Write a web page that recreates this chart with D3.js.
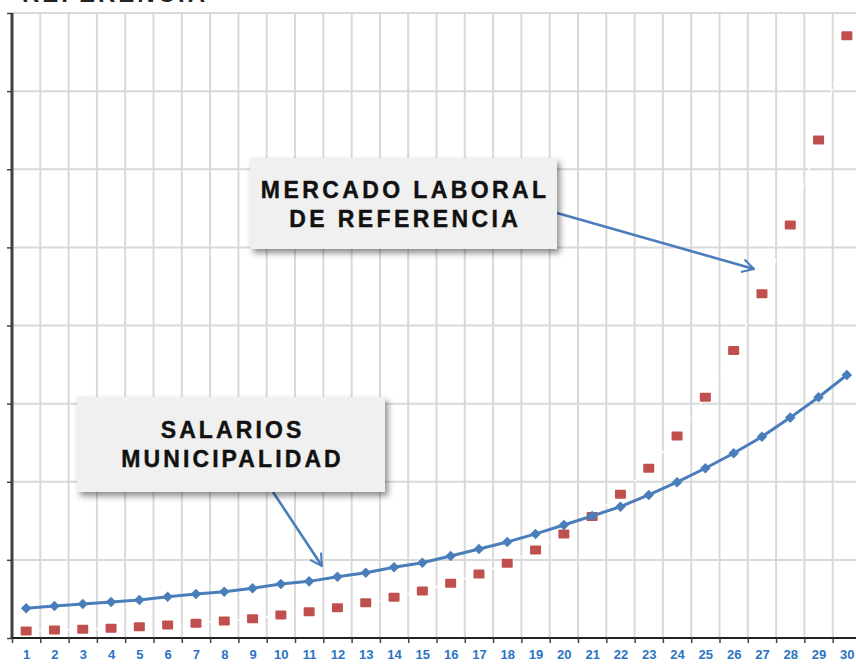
<!DOCTYPE html>
<html>
<head>
<meta charset="utf-8">
<script src="https://cdn.jsdelivr.net/npm/d3@7"></script>
<style>
  body { margin: 0; background: #fff; }
  svg { display: block; font-family: "Liberation Sans", Arial, sans-serif; }
</style>
</head>
<body>
<div class="chart"></div>
<script>
var svgWidth = 856;
var svgHeight = 671;

// Data (one unit per horizontal gridline = 1000)
var categories = d3.range(1, 31);
var salarios = [380, 410, 435, 461, 487, 529, 563, 593, 636, 691,
  725, 785, 836, 905, 964, 1050, 1140, 1229, 1332, 1447,
  1562, 1681, 1831, 1994, 2173, 2365, 2577, 2821, 3082, 3367];
var mercado = [90, 102, 111, 124, 145, 166, 188, 218, 247, 294,
  337, 388, 452, 521, 602, 700, 819, 956, 1127, 1332,
  1555, 1840, 2173, 2586, 3082, 3679, 4408, 5288, 6376, 7708];
var yTicks = d3.range(0, 8001, 1000);

var plot = { left: 12, right: 861, top: 13, bottom: 638 };

var svg = d3.select(".chart")
  .append("svg")
  .attr("width", svgWidth)
  .attr("height", svgHeight);

var defs = svg.append("defs");
var shadow = defs.append("filter")
  .attr("id", "shadow")
  .attr("x", "-10%").attr("y", "-20%")
  .attr("width", "130%").attr("height", "150%");
shadow.append("feDropShadow")
  .attr("dx", 3).attr("dy", 4)
  .attr("stdDeviation", 3)
  .attr("flood-color", "#000")
  .attr("flood-opacity", 0.45);

defs.append("marker")
  .attr("id", "arrow")
  .attr("viewBox", "0 0 12 12")
  .attr("refX", 10).attr("refY", 6)
  .attr("markerWidth", 6).attr("markerHeight", 6)
  .attr("markerUnits", "strokeWidth")
  .attr("orient", "auto")
  .append("path")
  .attr("d", "M1,1 L10,6 L1,11")
  .attr("fill", "none")
  .attr("stroke", "#4a7ebb")
  .attr("stroke-width", 1.6)
  .attr("stroke-linejoin", "round");

// Scales
var x = d3.scaleLinear()
  .domain([0.5, 30.5])
  .range([plot.left, plot.right]);

var y = d3.scaleLinear()
  .domain([0, 8000])
  .range([plot.bottom, plot.top]);

// Title, cut off at the top of the picture
svg.append("text")
  .attr("x", 22)
  .attr("y", 2)
  .attr("font-size", 24)
  .attr("font-weight", "bold")
  .attr("letter-spacing", 3)
  .attr("fill", "#222")
  .text("REFERENCIA");

// Gridlines
var grid = svg.append("g");
grid.selectAll("line.h")
  .data(yTicks.slice(1))
  .enter()
  .append("line")
  .attr("x1", plot.left).attr("x2", plot.right)
  .attr("y1", d => y(d)).attr("y2", d => y(d))
  .attr("stroke", "#d9d9d9")
  .attr("stroke-width", 2);

var boundaries = d3.range(1.5, 31, 1);
grid.selectAll("line.v")
  .data(boundaries)
  .enter()
  .append("line")
  .attr("x1", d => x(d)).attr("x2", d => x(d))
  .attr("y1", plot.top).attr("y2", plot.bottom)
  .attr("stroke", "#d9d9d9")
  .attr("stroke-width", 2);

// Axes
var leftAxis = d3.axisLeft(y).tickValues(yTicks).tickSize(5).tickFormat("");
var gl = svg.append("g")
  .attr("transform", `translate(${plot.left}, 0)`)
  .call(leftAxis);
gl.select(".domain").attr("stroke", "#404040").attr("stroke-width", 3)
  .attr("d", `M0,${plot.top}V${plot.bottom}`);
gl.selectAll(".tick line").attr("stroke", "#404040").attr("stroke-width", 1.5);

var tickAxis = d3.axisBottom(x).tickValues(d3.range(0.5, 31, 1)).tickSize(5).tickFormat("");
var gb = svg.append("g")
  .attr("transform", `translate(0, ${plot.bottom})`)
  .call(tickAxis);
gb.select(".domain").attr("stroke", "#222").attr("stroke-width", 2)
  .attr("d", `M${plot.left},0H${plot.right}`);
gb.selectAll(".tick line").attr("stroke", "#404040").attr("stroke-width", 1.5);

var labelAxis = d3.axisBottom(x).tickValues(categories).tickSize(0).tickPadding(12);
var gx = svg.append("g")
  .attr("transform", `translate(0, ${plot.bottom})`)
  .call(labelAxis);
gx.select(".domain").remove();
gx.selectAll("text")
  .attr("fill", "#2b74c4")
  .attr("font-size", 13)
  .attr("font-weight", "bold")
  .attr("font-family", "\"Liberation Sans\", Arial, sans-serif");

// Mercado laboral: faint white connector + red squares
var line = d3.line()
  .x((d, i) => x(categories[i]))
  .y(d => y(d));

svg.append("path")
  .datum(mercado)
  .attr("d", line)
  .attr("fill", "none")
  .attr("stroke", "#fff")
  .attr("stroke-width", 1.5)
  .attr("stroke-dasharray", "6,4");

svg.selectAll("rect.mercado")
  .data(mercado)
  .enter()
  .append("rect")
  .attr("class", "mercado")
  .attr("x", (d, i) => x(categories[i]) - 5.5)
  .attr("y", d => y(d) - 4.5)
  .attr("width", 11)
  .attr("height", 9)
  .attr("rx", 1)
  .attr("fill", "#c0504d");

// Salarios municipalidad: blue line with diamonds
svg.append("path")
  .datum(salarios)
  .attr("d", line)
  .attr("fill", "none")
  .attr("stroke", "#4a7ebb")
  .attr("stroke-width", 3);

var diamond = d3.symbol().type(d3.symbolSquare).size(56);
svg.selectAll("path.salario")
  .data(salarios)
  .enter()
  .append("path")
  .attr("class", "salario")
  .attr("d", diamond)
  .attr("transform", (d, i) => `translate(${x(categories[i])}, ${y(d)}) rotate(45)`)
  .attr("fill", "#4a7ebb");

// Callouts
function callout(bx, by, bw, bh, lines, lineY, spacing, from, to) {
  svg.append("line")
    .attr("x1", from[0]).attr("y1", from[1])
    .attr("x2", to[0]).attr("y2", to[1])
    .attr("stroke", "#4a7ebb")
    .attr("stroke-width", 2.6)
    .attr("marker-end", "url(#arrow)");
  svg.append("rect")
    .attr("x", bx).attr("y", by)
    .attr("width", bw).attr("height", bh)
    .attr("fill", "#f0f0f0")
    .attr("filter", "url(#shadow)");
  svg.append("text")
    .attr("text-anchor", "middle")
    .attr("font-size", 23)
    .attr("font-weight", "bold")
    .attr("letter-spacing", spacing)
    .attr("fill", "#111")
    .attr("stroke", "#111")
    .attr("stroke-width", 0.4)
    .selectAll("tspan")
    .data(lines)
    .enter()
    .append("tspan")
    .attr("x", bx + bw / 2 + spacing / 2)
    .attr("y", (d, i) => lineY[i])
    .text(d => d);
}

callout(250, 158, 307, 91, ["MERCADO LABORAL", "DE REFERENCIA"], [198, 227], 3.4,
  [557, 213], [754, 269]);
callout(77, 397, 308, 95, ["SALARIOS", "MUNICIPALIDAD"], [438, 467], 3.1,
  [273, 492], [322, 566]);
</script>
</body>
</html>
